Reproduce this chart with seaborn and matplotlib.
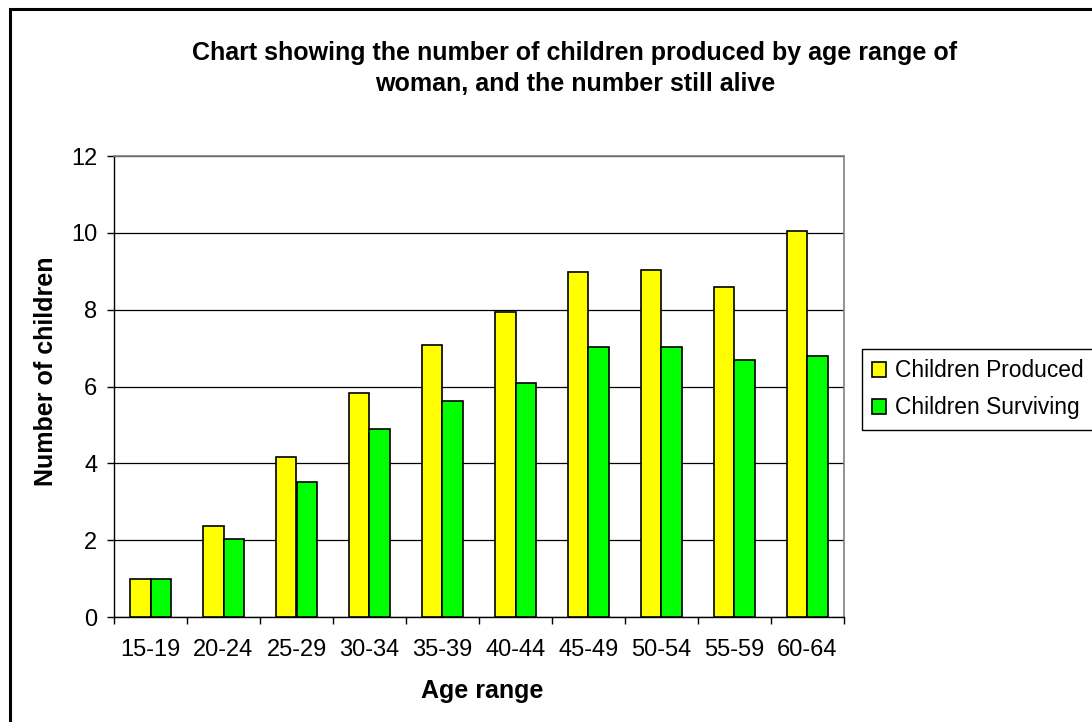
import matplotlib
matplotlib.use("Agg")
import matplotlib.pyplot as plt
from matplotlib.patches import Rectangle
from matplotlib.ticker import FixedLocator, NullFormatter
import numpy as np
import pandas as pd
import seaborn as sns

# Age ranges of the women surveyed
age_ranges = ["15-19", "20-24", "25-29", "30-34", "35-39",
              "40-44", "45-49", "50-54", "55-59", "60-64"]
# Mean children born per woman in each age range
children_produced = [1.0, 2.36, 4.16, 5.84, 7.09, 7.95, 8.97, 9.02, 8.60, 10.06]
# Mean children still alive per woman in each age range
children_surviving = [1.0, 2.02, 3.52, 4.89, 5.62, 6.10, 7.04, 7.04, 6.70, 6.79]

series_names = ["Children Produced", "Children Surviving"]
series_colors = ["#FFFF00", "#00FF00"]
y_ticks = [0, 2, 4, 6, 8, 10, 12]

df = pd.DataFrame({
    "Age range": age_ranges * 2,
    "Number of children": children_produced + children_surviving,
    "Series": [series_names[0]] * len(age_ranges) + [series_names[1]] * len(age_ranges),
})

sns.set_theme(style="white")
plt.rcParams["font.family"] = ["Liberation Sans", "DejaVu Sans"]
plt.rcParams["text.color"] = "black"
plt.rcParams["axes.labelcolor"] = "black"

W, H = 1092, 722
fig = plt.figure(figsize=(W / 100, H / 100), dpi=100)
fig.patch.set_facecolor("white")

# Plot area in pixel terms
px_left, px_right, px_top, px_bottom = 114, 844, 156, 617
ax = fig.add_axes([px_left / W, 1 - px_bottom / H,
                   (px_right - px_left) / W, (px_bottom - px_top) / H])

sns.barplot(data=df, x="Age range", y="Number of children", hue="Series",
            palette=series_colors, saturation=1, width=0.56,
            edgecolor="black", linewidth=1.2, ax=ax, legend=True, zorder=3)

ax.set_ylim(0, 12)
ax.set_xlim(-0.5, len(age_ranges) - 0.5)
ax.set_yticks(y_ticks)
ax.set_yticklabels([str(t) for t in y_ticks])
ax.grid(axis="y", color="black", linewidth=0.9, zorder=0)
ax.set_axisbelow(True)
ax.set_xlabel("")
ax.set_ylabel("")

# Category separator ticks on the x axis
ax.xaxis.set_minor_locator(FixedLocator(np.arange(-0.5, len(age_ranges), 1.0)))
ax.xaxis.set_minor_formatter(NullFormatter())
ax.tick_params(axis="x", which="major", length=0, pad=16, labelsize=17, labelcolor="black")
ax.tick_params(axis="x", which="minor", bottom=True, direction="out", length=5,
               width=1, color="black")
ax.tick_params(axis="y", which="major", left=True, direction="out", length=5,
               width=1, color="black", pad=7, labelsize=17, labelcolor="black")

for side in ["left", "bottom"]:
    ax.spines[side].set_color("black")
    ax.spines[side].set_linewidth(1.0)
for side in ["top", "right"]:
    ax.spines[side].set_color("#808080")
    ax.spines[side].set_linewidth(1.2)
    ax.spines[side].set_visible(True)

# Legend to the right of the plot area
handles, labels = ax.get_legend_handles_labels()
ax.legend(handles, labels, loc="upper left",
          bbox_to_anchor=(862 / W, 1 - 349 / H), bbox_transform=fig.transFigure,
          frameon=True, fancybox=False, edgecolor="black", framealpha=1,
          fontsize=16.4, handlelength=0.62, handleheight=0.62, handletextpad=0.38,
          borderpad=0.45, labelspacing=0.62, borderaxespad=0)
ax.get_legend().get_frame().set_linewidth(1.0)

# Titles and axis labels
fig.text(575 / W, 1 - 68.5 / H,
         "Chart showing the number of children produced by age range of\nwoman, and the number still alive",
         ha="center", va="center", fontsize=18, fontweight="bold", linespacing=1.38)
fig.text(46 / W, 1 - 371 / H, "Number of children", rotation=90,
         ha="center", va="center", fontsize=18, fontweight="bold")
fig.text(482 / W, 1 - 691 / H, "Age range",
         ha="center", va="center", fontsize=18, fontweight="bold")

# Outer chart frame
fig.patches.append(Rectangle((10 / W, -0.2), 1.5, 1.2 + (H - 9) / H - 1.0,
                             transform=fig.transFigure, fill=False,
                             edgecolor="black", linewidth=2.2, zorder=10))

fig.savefig("out.png", dpi=100)
